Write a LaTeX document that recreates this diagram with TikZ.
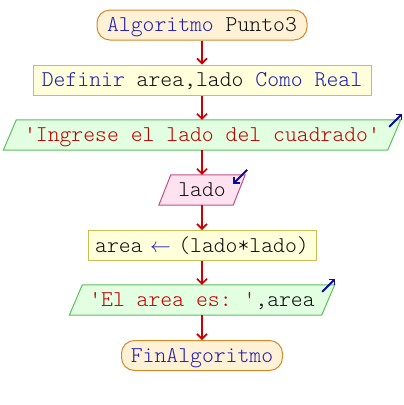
\documentclass[tikz,border=0pt]{standalone}
\usepackage{fontspec}
\setmonofont{lmmonolt10-regular.otf}
\usetikzlibrary{arrows.meta,backgrounds,calc}

\definecolor{kw}{HTML}{1E1EB0}
\definecolor{str}{HTML}{C00000}
\definecolor{idn}{HTML}{101010}
\definecolor{flow}{HTML}{CC0000}
\definecolor{pillfill}{HTML}{FFF1D6}
\definecolor{pilldraw}{HTML}{D08C2C}
\definecolor{procfill}{HTML}{FFFFDC}
\definecolor{procdraw}{HTML}{C8C050}
\definecolor{outfill}{HTML}{E2FFE2}
\definecolor{outdraw}{HTML}{5CC05C}
\definecolor{infill}{HTML}{FFE2F0}
\definecolor{indraw}{HTML}{C05088}
\definecolor{iconblue}{HTML}{0A0AA0}

\newcommand\kwd[1]{{\color{kw}#1}}
\newcommand\strg[1]{{\color{str}#1}}
\newcommand\ident[1]{{\color{idn}#1}}
% assignment arrow, one character cell wide
\newcommand\assign{{\color{kw}\makebox[0.525em]{\fontsize{20}{20}\selectfont$\leftarrow$}}}

% parallelogram drawn behind a node, slanted by #2 on each side
\newcommand\slantbox[3]{%
  \begin{scope}[on background layer]
    \draw[#3] ($(#1.north west)+(#2,0)$) -- ($(#1.north east)+(#2,0)$)
      -- ($(#1.south east)+(-#2,0)$) -- ($(#1.south west)+(-#2,0)$) -- cycle;
  \end{scope}}

\tikzset{
  every node/.style={font=\fontsize{22.6}{24}\ttfamily, inner sep=0pt,
    text height=17pt, text depth=4pt},
  terminal/.style={draw=pilldraw, fill=pillfill, line width=1pt,
    rounded corners=13pt, minimum height=30pt},
  process/.style={draw=procdraw, fill=procfill, line width=1pt,
    minimum height=30pt},
  iobox/.style={minimum height=30pt},
  outshape/.style={draw=outdraw, fill=outfill, line width=1pt},
  inshape/.style={draw=indraw, fill=infill, line width=1pt},
  flowarrow/.style={draw=flow, line width=2pt,
    -{Straight Barb[length=5pt,width=10pt,line width=1.6pt]}},
  iconarrow/.style={draw=iconblue, line width=2pt,
    -{Straight Barb[length=4pt,width=8pt,line width=1.6pt]}}
}

\begin{document}
\begin{tikzpicture}[x=1pt,y=-1pt]
\useasboundingbox (0,0) rectangle (404,405);

\node[terminal, minimum width=210pt] (start) at (202,25)
  {\kwd{Algoritmo} \ident{Punto3}};
\node[process, minimum width=338pt] (decl) at (202,80)
  {\kwd{Definir} \ident{area,lado} \kwd{Como Real}};
\node[iobox, minimum width=384pt] (ask) at (202,135)
  {\strg{'Ingrese el lado del cuadrado'}};
\node[iobox, minimum width=74pt] (read) at (202,190)
  {\ident{lado}};
\node[process, minimum width=228pt] (calc) at (202,245.5)
  {\ident{area} \assign{} \ident{(lado*lado)}};
\node[iobox, minimum width=252pt] (show) at (202,300)
  {\strg{'El area es: '}\ident{,area}};
\node[terminal, minimum width=161pt] (stop) at (202,355.5)
  {\kwd{FinAlgoritmo}};

\slantbox{ask}{6.5}{outshape}
\slantbox{read}{6}{inshape}
\slantbox{show}{6.5}{outshape}

\draw[flowarrow] (start.south) -- (decl.north);
\draw[flowarrow] (decl.south) -- (ask.north);
\draw[flowarrow] (ask.south) -- (read.north);
\draw[flowarrow] (read.south) -- (calc.north);
\draw[flowarrow] (calc.south) -- (show.north);
\draw[flowarrow] (show.south) -- (stop.north);

% output / input markers at the upper right corners
\coordinate (askA) at ($(ask.north east)+(-5,7)$);
\coordinate (askB) at ($(ask.north east)+(8,-6)$);
\draw[iconarrow] (askA) -- (askB);
\coordinate (readA) at ($(read.north east)+(8,-5)$);
\coordinate (readB) at ($(read.north east)+(-6,9)$);
\draw[iconarrow] (readA) -- (readB);
\coordinate (showA) at ($(show.north east)+(-6,7)$);
\coordinate (showB) at ($(show.north east)+(7,-6)$);
\draw[iconarrow] (showA) -- (showB);
\end{tikzpicture}
\end{document}
